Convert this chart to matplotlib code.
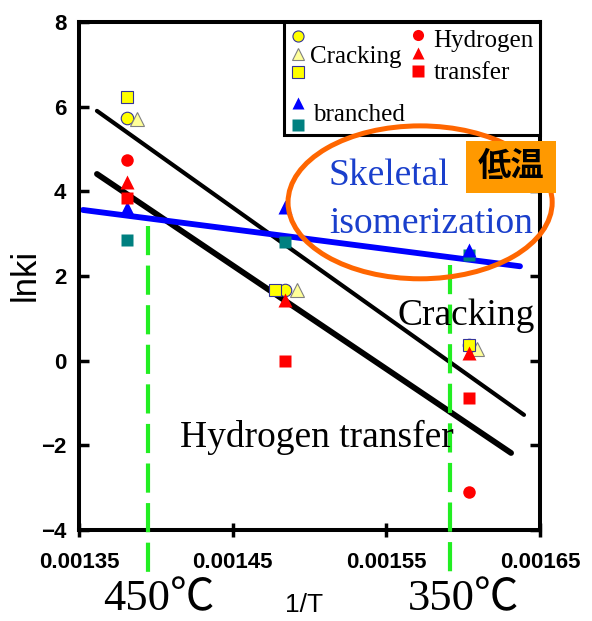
import matplotlib
matplotlib.use("Agg")
import matplotlib.pyplot as plt
from matplotlib.patches import Ellipse, Rectangle

# ---- data (1/T, lnk) ----
crack_circle_x = [0.0013812, 0.0014838, 0.0016039]
crack_circle_y = [5.73, 1.67, 0.37]
crack_tri_x = [0.0013877, 0.0014916, 0.0016091]
crack_tri_y = [5.72, 1.66, 0.28]
crack_sq_x = [0.0013812, 0.0014773, 0.0016039]
crack_sq_y = [6.23, 1.67, 0.37]

ht_circle_x = [0.0013812, 0.0016039]
ht_circle_y = [4.74, -3.10]
ht_tri_x = [0.0013812, 0.0014838, 0.0016039]
ht_tri_y = [4.22, 1.43, 0.18]
ht_sq_x = [0.0013812, 0.0014838, 0.0016039]
ht_sq_y = [3.84, 0.00, -0.88]

br_tri_x = [0.0013812, 0.0014838, 0.0016039]
br_tri_y = [3.60, 3.62, 2.62]
br_sq_x = [0.0013812, 0.0014838, 0.0016039]
br_sq_y = [2.85, 2.80, 2.49]

# trend lines
crack_line_x = [0.0013617, 0.0016396]
crack_line_y = [5.90, -1.28]
ht_line_x = [0.0013617, 0.0016312]
ht_line_y = [4.41, -2.18]
iso_line_x = [0.0013526, 0.0016370]
iso_line_y = [3.56, 2.23]

# temperature markers
t450_x = [0.001395, 0.001395]
t450_y = [3.18, -5.0]
t350_x = [0.0015916, 0.0015916]
t350_y = [2.26, -5.2]

xticks = [0.00135, 0.00145, 0.00155, 0.00165]
yticks = [-4, -2, 0, 2, 4, 6, 8]

serif = ['Liberation Serif', 'Noto Sans CJK JP']
sans = ['Liberation Sans', 'DejaVu Sans']

fig = plt.figure(figsize=(5.92, 6.21), dpi=100)
ax = fig.add_axes([0.1334, 0.1465, 0.7787, 0.8181])

YEL_EDGE = '#333399'
ms = 9

# trend lines
ax.plot(crack_line_x, crack_line_y, color='black', lw=3, solid_capstyle='round', zorder=2)
ax.plot(ht_line_x, ht_line_y, color='black', lw=4.2, solid_capstyle='round', zorder=2)
ax.plot(iso_line_x, iso_line_y, color='#0000ff', lw=4.2, solid_capstyle='round', zorder=2)

# points
ax.plot(br_sq_x, br_sq_y, 's', color='#008080', ms=ms, mec='none', ls='none', zorder=3)
ax.plot(br_tri_x, br_tri_y, '^', color='#0000ff', ms=ms + 1, mec='none', ls='none', zorder=3)
ax.plot(crack_circle_x, crack_circle_y, 'o', mfc='#ffff00', mec=YEL_EDGE, mew=0.8, ms=ms, ls='none', zorder=3)
ax.plot(crack_tri_x, crack_tri_y, '^', mfc='#ffff99', mec='#808080', mew=0.8, ms=ms + 1, ls='none', zorder=3)
ax.plot(crack_sq_x, crack_sq_y, 's', mfc='#ffff00', mec=YEL_EDGE, mew=0.8, ms=ms, ls='none', zorder=3)
ax.plot(ht_sq_x, ht_sq_y, 's', color='#ff0000', ms=ms, mec='none', ls='none', zorder=4)
ax.plot(ht_tri_x, ht_tri_y, '^', color='#ff0000', ms=ms + 1, mec='none', ls='none', zorder=4)
ax.plot(ht_circle_x, ht_circle_y, 'o', color='#ff0000', ms=ms, mec='none', ls='none', zorder=4)

# temperature lines
for xs, ys in [(t450_x, t450_y), (t350_x, t350_y)]:
    ax.plot(xs, ys, color='#22ee22', lw=3, dashes=(7, 2.5), clip_on=False, zorder=5)

ax.set_xlim(0.00135, 0.00165)
ax.set_ylim(-4, 8)
ax.set_xticks(xticks)
ax.set_xticklabels(['%.5f' % v for v in xticks])
ax.set_yticks(yticks)
ax.set_yticklabels([('%d' % v).replace('-', '\u2212') for v in yticks])
for s in ax.spines.values():
    s.set_linewidth(2.9)
ax.tick_params(axis='x', direction='inout', length=10, width=2.5, pad=11, labelsize=16)
ax.tick_params(axis='y', direction='in', length=7, width=2.5, pad=9, labelsize=16, right=True)
for lab in ax.get_xticklabels() + ax.get_yticklabels():
    lab.set_family(sans)
    lab.set_fontweight('bold')

# legend box (hand drawn)
ax.add_patch(Rectangle((0.445, 0.778), 0.555, 0.222, transform=ax.transAxes, fc='white',
                       ec='black', lw=2.2, clip_on=False, zorder=6))
leg = [(0.475, 0.972, 'o', '#ffff00', YEL_EDGE), (0.475, 0.937, '^', '#ffff99', '#808080'),
       (0.475, 0.902, 's', '#ffff00', YEL_EDGE),
       (0.735, 0.974, 'o', '#ff0000', 'none'), (0.735, 0.939, '^', '#ff0000', 'none'),
       (0.735, 0.904, 's', '#ff0000', 'none'),
       (0.475, 0.841, '^', '#0000ff', 'none'), (0.475, 0.797, 's', '#008080', 'none')]
for lx, ly, m, fc, ec in leg:
    ax.plot([lx], [ly], m, mfc=fc, mec=ec, mew=0.8, ms=8, transform=ax.transAxes,
            clip_on=False, zorder=7)
ax.text(0.501, 0.919, 'Cracking', transform=ax.transAxes, family=serif, fontsize=18, zorder=7)
ax.text(0.768, 0.951, 'Hydrogen', transform=ax.transAxes, family=serif, fontsize=18, zorder=7)
ax.text(0.770, 0.888, 'transfer', transform=ax.transAxes, family=serif, fontsize=18, zorder=7)
ax.text(0.508, 0.805, 'branched', transform=ax.transAxes, family=serif, fontsize=18, zorder=7)

# annotations
ax.add_patch(Ellipse((0.74, 0.645), 0.573, 0.301, transform=ax.transAxes, fill=False,
                     ec='#ff6600', lw=3.6, clip_on=False, zorder=8))
ax.text(0.542, 0.679, 'Skeletal', transform=ax.transAxes, family=serif, fontsize=27,
        color='#1a3fcc', zorder=8)
ax.text(0.542, 0.585, 'isomerization', transform=ax.transAxes, family=serif, fontsize=27,
        color='#1a3fcc', zorder=8)
ax.add_patch(Rectangle((0.839, 0.663), 0.196, 0.103, transform=ax.transAxes, fc='#ff9900',
                       ec='none', clip_on=False, zorder=9))
ax.text(0.937, 0.715, '低温', transform=ax.transAxes, family='Noto Sans CJK JP',
        fontweight='bold', fontsize=24, ha='center', va='center', zorder=10)
ax.text(0.690, 0.404, 'Cracking', transform=ax.transAxes, family=serif, fontsize=27, zorder=8)
ax.text(0.219, 0.163, 'Hydrogen transfer', transform=ax.transAxes, family=serif, fontsize=27, zorder=8)

fig.text(0.174, 0.0177, '450℃', family=serif, fontsize=32)
fig.text(0.689, 0.0177, '350℃', family=serif, fontsize=32)
fig.text(0.481, 0.0145, '1/T', family=sans, fontsize=19)
fig.text(0.042, 0.557, 'lnki', family=sans, fontsize=25, rotation=90, ha='center', va='center')

fig.savefig('out.png', dpi=100)
